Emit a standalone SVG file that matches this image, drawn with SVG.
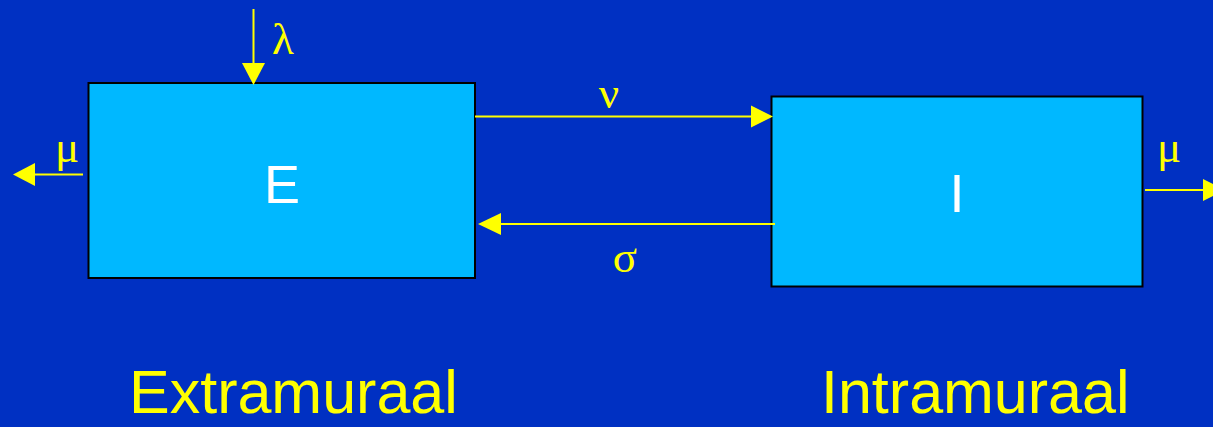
<svg xmlns="http://www.w3.org/2000/svg" width="1213" height="427" viewBox="0 0 1213 427">
<style>
.box{fill:#00B8FF;stroke:#000;stroke-width:2}
.lbl{font-family:"Liberation Sans",Arial,sans-serif;font-size:54px;fill:#fff;text-anchor:middle}
.greek{font-family:"Liberation Serif","Times New Roman",serif;font-size:45px;fill:#FFFF00;text-anchor:middle}
.cap{font-family:"Liberation Sans",Arial,sans-serif;font-size:61px;fill:#FFFF00}
.ln{stroke:#FFFF00;stroke-width:2;fill:none}
.ah{fill:#FFFF00}
</style>
<rect width="1213" height="427" fill="#0030C2"/>
<g id="node-E">
<rect class="box" x="88.5" y="83" width="386.5" height="195"/>
<text class="lbl" x="282" y="203">E</text>
</g>
<g id="node-I">
<rect class="box" x="771.5" y="96.5" width="371" height="190"/>
<text class="lbl" x="957" y="212">I</text>
</g>
<g id="connectors">
<line class="ln" x1="253.5" y1="9" x2="253.5" y2="64"/>
<polygon class="ah" points="242,63 265,63 253.5,85"/>
<line class="ln" x1="83" y1="174.5" x2="34" y2="174.5"/>
<polygon class="ah" points="35,163 35,186 13,174.5"/>
<line class="ln" x1="475" y1="116.5" x2="752" y2="116.5"/>
<polygon class="ah" points="751,105.5 751,127.5 773,116.5"/>
<line class="ln" x1="775" y1="224" x2="500" y2="224"/>
<polygon class="ah" points="501,213 501,235 478,224"/>
<line class="ln" x1="1145" y1="190" x2="1204" y2="190"/>
<polygon class="ah" points="1203,179 1203,201 1225,190"/>
</g>
<g id="labels">
<text class="greek" x="283" y="54">λ</text>
<text class="greek" x="67" y="162">μ</text>
<text class="greek" x="609" y="108">ν</text>
<text class="greek" x="625" y="272">σ</text>
<text class="greek" x="1169" y="162">μ</text>
<text class="cap" x="129" y="413">Extramuraal</text>
<text class="cap" x="821" y="413">Intramuraal</text>
</g>
</svg>
